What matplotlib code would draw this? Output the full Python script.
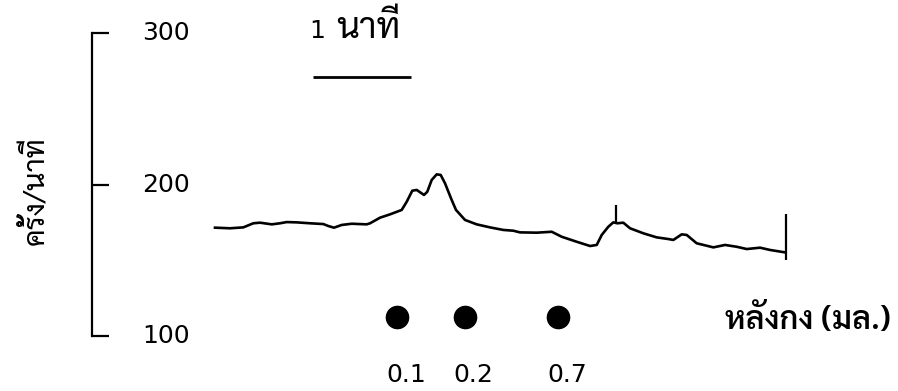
import matplotlib

matplotlib.use("Agg")
import matplotlib.pyplot as plt
from matplotlib import font_manager

# heart rate trace, time in minutes from start of record
time_min = [0.000, 0.153, 0.289, 0.391, 0.459, 0.579, 0.663, 0.732, 0.834,
            0.969, 1.105, 1.156, 1.214, 1.293, 1.395, 1.548, 1.582, 1.684,
            1.786, 1.905, 1.956, 2.013, 2.058, 2.092, 2.133, 2.166, 2.211,
            2.262, 2.303, 2.347, 2.415, 2.459, 2.551, 2.670, 2.806, 2.942,
            3.044, 3.112, 3.283, 3.436, 3.538, 3.691, 3.827, 3.895, 3.946,
            4.013, 4.064, 4.105, 4.166, 4.235, 4.370, 4.507, 4.626, 4.677,
            4.762, 4.813, 4.915, 5.085, 5.204, 5.323, 5.426, 5.561, 5.663,
            5.816]
rate = [171.5, 171.1, 171.7, 174.4, 174.8, 173.7, 174.4, 175.2, 175.0,
        174.4, 173.9, 172.6, 171.5, 173.3, 174.1, 173.7, 174.4, 178.1,
        180.3, 183.2, 188.6, 195.9, 196.4, 194.9, 193.1, 195.2, 203.0,
        206.7, 206.3, 200.8, 189.8, 183.2, 176.6, 173.7, 171.7, 170.0,
        169.5, 168.4, 168.2, 168.8, 165.5, 162.2, 159.4, 160.1, 166.7,
        172.1, 175.0, 174.4, 174.8, 171.1, 167.8, 165.1, 164.0, 163.4,
        167.1, 166.7, 161.2, 158.5, 160.1, 158.9, 157.4, 158.3, 156.8,
        155.2]

# event marks on the trace (time, low, high)
mark_times = [4.095, 5.823]
mark_low = [174.4, 150.0]
mark_high = [186.5, 180.5]

# doses given (ml)
dose_times = [1.86, 2.55, 3.50]
dose_labels = ["0.1", "0.2", "0.7"]
dose_level = 112.7

y_ticks = [100, 200, 300]
scale_start = 1.0
scale_len = 1.0
scale_level = 271

thai_font = "DejaVu Sans"
installed = {f.name for f in font_manager.fontManager.ttflist}
for name in ["Sarabun", "Noto Sans Thai Looped", "Noto Sans Thai", "Athiti"]:
    if name in installed:
        thai_font = name
        break
num_font = "DejaVu Sans"

fig = plt.figure(figsize=(8.98, 3.91), dpi=100)
ax = fig.add_axes([92 / 898, 55 / 391, 806 / 898, 303 / 391])
ax.set_xlim(-1.255, 6.969)
ax.set_ylim(100, 300)

ax.plot(time_min, rate, color="black", lw=1.9, solid_joinstyle="round")
ax.vlines(mark_times, mark_low, mark_high, color="black", lw=1.6)

ax.plot(dose_times, [dose_level] * len(dose_times), "o", color="black",
        markersize=16, clip_on=False)
for t, lab in zip(dose_times, dose_labels):
    ax.annotate(lab, (t, dose_level), xytext=(-8, -42), textcoords="offset points",
                ha="left", va="center", fontsize=18, family=num_font)

ax.hlines(scale_level, scale_start, scale_start + scale_len, color="black", lw=2)
ax.annotate("1", (scale_start, scale_level), xytext=(-3, 33),
            textcoords="offset points", ha="left", va="center", fontsize=18,
            family=num_font)
ax.annotate("นาที", (scale_start, scale_level), xytext=(17, 35),
            textcoords="offset points", ha="left", va="center", fontsize=26,
            family=thai_font)

ax.text(5.2, 110.6, "หลังกง (มล.)", ha="left", va="center", fontsize=23,
        fontweight="semibold", family=thai_font)

for s in ["top", "right", "bottom"]:
    ax.spines[s].set_visible(False)
ax.spines["left"].set_linewidth(1.6)
ax.set_xticks([])
ax.set_yticks(y_ticks)
ax.tick_params(axis="y", direction="in", length=12, width=1.6, labelleft=False)
for v in y_ticks:
    ax.text(0.062, v, str(v), transform=ax.get_yaxis_transform(), ha="left",
            va="center", fontsize=18, family=num_font)

fig.text(37 / 898, 1 - 191 / 391, "ครั้ง/นาที", rotation=90, ha="center",
         va="center", fontsize=21, family=thai_font)

fig.savefig("out.png", dpi=100)
